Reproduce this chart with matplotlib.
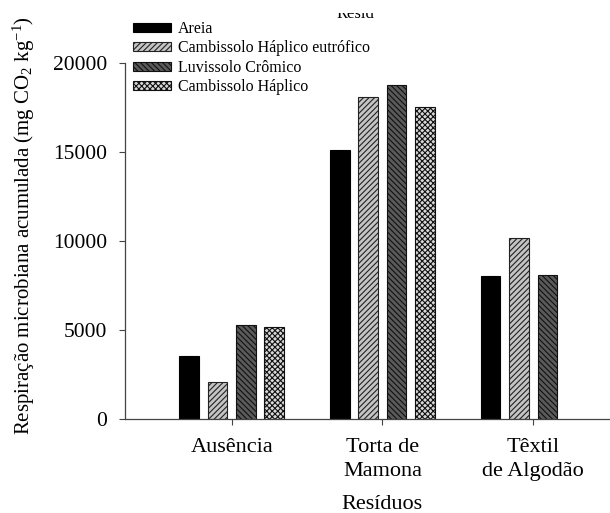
import numpy as np
import matplotlib
matplotlib.use("Agg")
import matplotlib.pyplot as plt
from matplotlib.patches import Rectangle

plt.rcParams['font.family'] = ['Liberation Serif', 'DejaVu Serif']
plt.rcParams['hatch.linewidth'] = 0.8
plt.rcParams['mathtext.fontset'] = 'custom'
plt.rcParams['mathtext.rm'] = 'Liberation Serif'
plt.rcParams['mathtext.it'] = 'Liberation Serif:italic'

categories = ["Ausência", "Torta de\nMamona", "Têxtil\nde Algodão"]
soils = ["Areia", "Cambissolo Háplico eutrófico", "Luvissolo Crômico", "Cambissolo Háplico"]
areia = [3550, 15100, 8050]
cambissolo_eutrofico = [2060, 18100, 10150]
luvissolo = [5270, 18780, 8070]
cambissolo = [5180, 17550, np.nan]
series = [areia, cambissolo_eutrofico, luvissolo, cambissolo]

styles = [
    dict(facecolor="black", hatch=None, edgecolor="black"),
    dict(facecolor="#c4c4c4", hatch="//////", edgecolor="#222222"),
    dict(facecolor="#5a5a5a", hatch="\\\\\\\\\\\\", edgecolor="#111111"),
    dict(facecolor="#d8d8d8", hatch="xxxxxx", edgecolor="#111111"),
]

W, H = 610, 513
fig = plt.figure(figsize=(W / 100, H / 100), dpi=100)
ax = fig.add_axes([125 / W, 1 - 419 / H, 1 - 125 / W, (419 - 63) / H])

x = np.arange(len(categories))
pitch = 0.188
width = 0.13
for i, (vals, st) in enumerate(zip(series, styles)):
    ax.bar(x + (i - 1.5) * pitch, vals, width, label=soils[i],
           facecolor=st["facecolor"], hatch=st["hatch"],
           edgecolor=st["edgecolor"], linewidth=0.8)

ax.set_ylim(0, 20000)
ax.set_xlim(-0.708, 2.51)
ax.set_yticks([0, 5000, 10000, 15000, 20000])
ax.set_xticks(x)
ax.set_xticklabels(categories, fontsize=16, linespacing=1.3)
ax.tick_params(axis='y', labelsize=15.5, direction='out', length=4, width=0.8, color="#444444", pad=9)
ax.tick_params(axis='x', direction='out', length=4, width=0.8, color="#444444", pad=10)
for s in ["top", "right"]:
    ax.spines[s].set_visible(False)
for s in ["left", "bottom"]:
    ax.spines[s].set_color("#444444")
    ax.spines[s].set_linewidth(0.9)

ax.set_xlabel("Resíduos", fontsize=16)
ax.xaxis.set_label_coords((382 - 125) / (W - 125), -(495 - 419) / (419 - 63))
ax.set_ylabel("Respiração microbiana acumulada (mg CO$_2$ kg$^{-1}$)", fontsize=15)
ax.yaxis.set_label_coords(-(125 - 37) / (W - 125), (419 - 226) / (419 - 63))

# Partially hidden heading at the top, masked by a white strip
fig.text(337 / W, 1 - 18 / H, "Resíd", fontsize=12, ha='left', va='baseline', zorder=1)
fig.add_artist(Rectangle((330 / W, 1 - 13 / H), 60 / W, 13 / H, transform=fig.transFigure,
                         facecolor='white', edgecolor='none', zorder=2))

leg = fig.legend(loc='upper left', bbox_to_anchor=(128 / W, 1 - 16 / H),
                 fontsize=11.5, frameon=False, handlelength=2.4, handleheight=0.5,
                 handletextpad=0.45, labelspacing=0.22, borderpad=0.3, borderaxespad=0)
leg.set_zorder(5)

fig.savefig("out.png", dpi=100)
